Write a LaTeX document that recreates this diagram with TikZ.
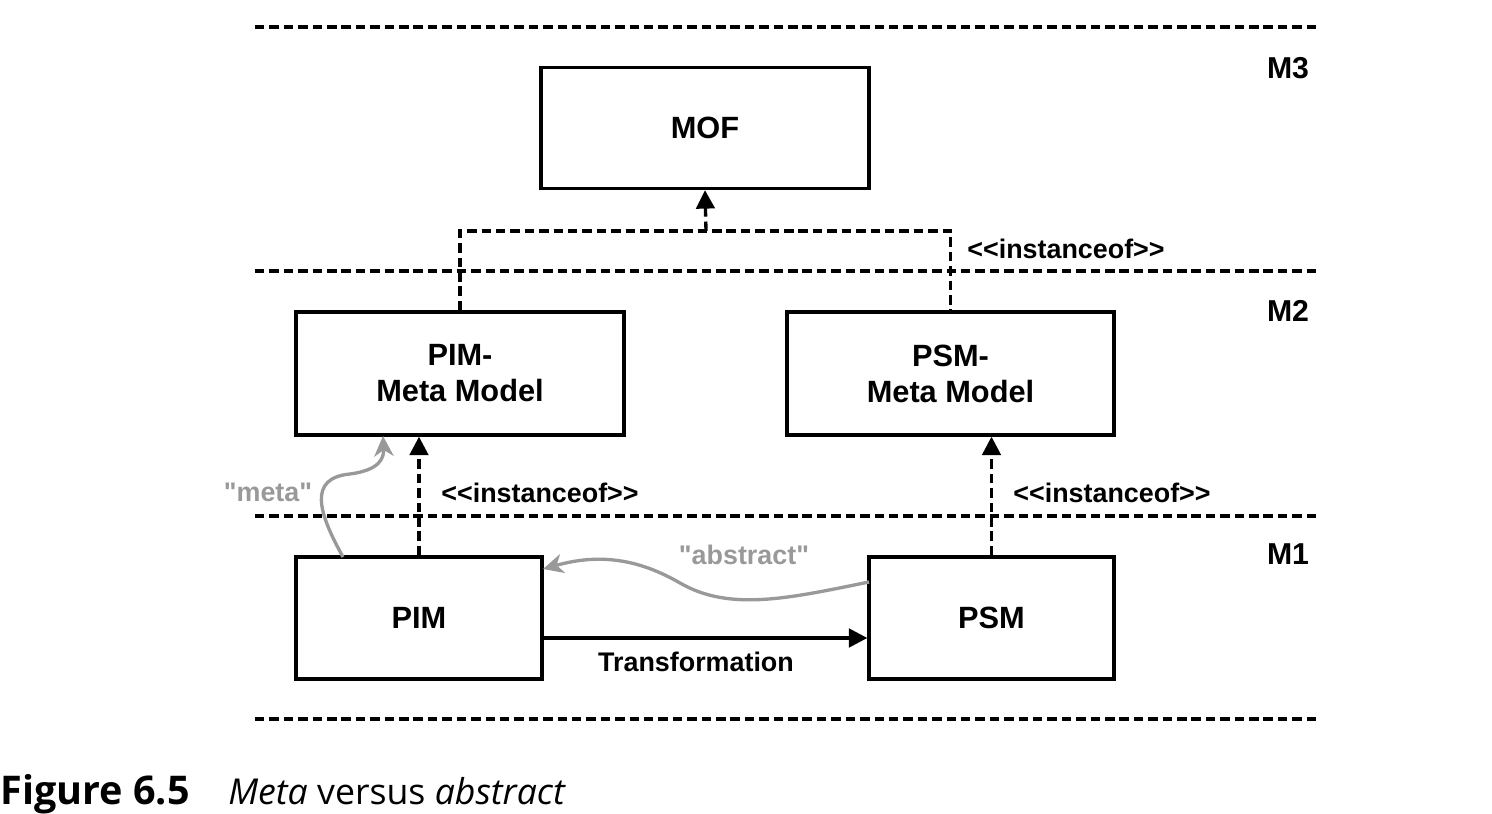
\documentclass[tikz,border=0pt]{standalone}
\usepackage{fontspec}
\setmainfont{Liberation Sans}[Ligatures=TeXOff]
\newfontfamily\capfont{Open Sans}
\usetikzlibrary{arrows.meta}

\definecolor{notegray}{HTML}{999999}

\tikzset{
  box/.style={draw, line width=1.9pt, align=center, inner sep=0pt,
    font=\fontsize{17.5}{20.5}\selectfont\bfseries},
  layer/.style={line width=1.9pt, dash pattern=on 5.4pt off 2.8pt},
  inst/.style={line width=1.9pt, dash pattern=on 5.4pt off 2.8pt},
  tip/.style={-{Triangle[length=10.5pt,width=10.5pt]}},
  note/.style={draw=notegray, line width=1.9pt,
    -{Stealth[length=11.5pt,width=11pt,inset=3.5pt]}},
  lbl/.style={font=\fontsize{15.3}{18}\selectfont\bfseries},
  notelbl/.style={lbl, text=notegray},
  level/.style={font=\fontsize{17.2}{20}\selectfont\bfseries}
}

\begin{document}
\begin{tikzpicture}[x=0.02cm, y=-0.02cm]
  \useasboundingbox (0,0) rectangle (1492,814);

  % layers
  \foreach \y in {27, 271, 516, 719}
    \draw[layer] (255,\y) -- (1316,\y);
  \foreach \y/\m in {68/M3, 311/M2, 554/M1}
    \node[level] (lev\m) at (1288,\y) {\m};

  % models
  \node[box, minimum width=6.56cm, minimum height=2.42cm] (mof) at (705,128) {MOF};
  \node[box, minimum width=6.56cm, minimum height=2.46cm] (pimmm) at (460,373.5) {PIM-\\Meta Model};
  \node[box, minimum width=6.54cm, minimum height=2.46cm] (psmmm) at (950.5,373.5) {PSM-\\Meta Model};
  \node[box, minimum width=4.92cm, minimum height=2.44cm] (pim) at (419,618) {PIM};
  \node[box, minimum width=4.90cm, minimum height=2.44cm] (psm) at (991.5,618) {PSM};

  % instanceof
  \coordinate (join) at (706,231);
  \draw[inst] (pimmm.north) |- (join) -| (psmmm.north);
  \draw[inst, tip] (join) -- (mof.south);
  \draw[inst, tip] (pim.north) -- (pim.north |- pimmm.south);
  \draw[inst, tip] (psm.north) -- (psm.north |- psmmm.south);
  \node[lbl] (inst1) at (1066,249) {<<instanceof>>};
  \node[lbl] (inst2) at (540,493) {<<instanceof>>};
  \node[lbl] (inst3) at (1112,493) {<<instanceof>>};

  % transformation
  \draw[line width=1.9pt, tip] (pim.east |- 0,638) -- (psm.west |- 0,638);
  \node[lbl] (trans) at (696,662) {Transformation};

  % meta / abstract
  \coordinate (metafrom) at (343,557);
  \coordinate (metato) at (383,436);
  \draw[note] (metafrom) .. controls (318,512) and (308,478) .. (350,474)
    .. controls (380,470) and (384,458) .. (metato);
  \node[notelbl] (metalbl) at (268,492) {"meta"};
  \coordinate (absfrom) at (869,582);
  \coordinate (absto) at (543,569);
  \draw[note] (absfrom) .. controls (790,598) and (730,612) .. (680,583)
    .. controls (630,554) and (590,556) .. (absto);
  \node[notelbl] (abslbl) at (744,555) {"abstract"};

  % caption
  \node[anchor=base west, inner sep=0pt, font=\capfont\fontsize{22.5}{26}\selectfont\bfseries] (fig) at (0,804) {Figure 6.5};
  \node[anchor=base west, inner sep=0pt, font=\capfont\fontsize{20.3}{24}\selectfont] (cap) at (228,804) {\itshape Meta\/ \upshape versus \itshape abstract};
\end{tikzpicture}
\end{document}
